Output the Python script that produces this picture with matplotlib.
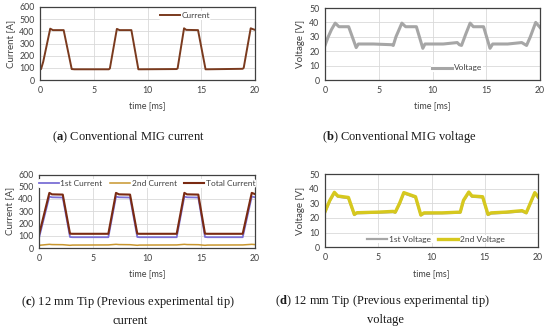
"""
Welding current / voltage waveforms, 4 panels
Output: out.png
"""

import matplotlib.pyplot as plt

# (a) conventional MIG current, breakpoints
t_a = [0, 0.1, 0.3, 0.95, 1.2, 2.2, 2.95, 3.2, 6.4, 6.5, 7.15, 7.4, 8.5, 9.15, 9.4,
       12.7, 12.8, 13.4, 13.6, 14.7, 15.4, 15.6, 18.85, 18.95, 19.6, 19.8, 20]
cur_a = [85, 90, 150, 422, 410, 410, 90, 88, 88, 95, 420, 410, 410, 88, 88,
         90, 95, 425, 412, 410, 88, 88, 92, 100, 425, 418, 412]

# (b) conventional MIG voltage
t_b = [0, 0.3, 0.6, 0.95, 1.3, 2.2, 2.9, 3.1, 4.5, 6.2, 6.35, 6.6, 7.15, 7.5, 8.5,
       9.1, 9.3, 11.0, 12.3, 12.5, 12.7, 13.1, 13.5, 13.8, 14.75, 15.35, 15.6,
       17.0, 18.3, 18.75, 19.1, 19.6, 20]
volt_b = [24, 30, 35, 39.5, 37, 37, 22.5, 25, 25, 24.5, 24, 30, 39.5, 37, 37,
          22, 25, 25, 26, 24.5, 24, 32, 39.5, 37, 37, 22, 25,
          25, 26, 24, 30, 40, 36.5]

# (c) 12 mm tip currents
t_c = [0, 0.96, 1.2, 2.2, 2.87, 3.1, 6.42, 7.13, 7.4, 8.43, 9.1, 9.3, 12.75,
       13.46, 13.7, 14.75, 15.37, 15.6, 18.86, 19.7, 20]
total_c = [108, 450, 438, 436, 117, 116, 116, 450, 438, 436, 117, 116, 116,
           450, 438, 436, 117, 116, 116, 450, 440]
first_c = [82, 420, 414, 412, 90, 88, 88, 420, 414, 412, 90, 88, 88,
           420, 414, 412, 90, 88, 88, 420, 414]
second_c = [22, 30, 28, 27, 22, 24, 25, 30, 28, 27, 22, 24, 25,
            30, 28, 27, 22, 24, 25, 30, 28]

# (d) 12 mm tip voltages
t_d = [0, 0.45, 0.88, 1.2, 2.2, 2.75, 3.0, 5.0, 6.4, 6.6, 7.0, 7.4, 8.5, 9.0,
       9.3, 11.0, 12.7, 13.0, 13.5, 13.8, 14.8, 15.3, 15.6, 17.0, 18.5, 18.9,
       19.7, 20]
volt2_d = [24.3, 32, 37.5, 35, 34, 22.5, 23.6, 24, 24.5, 24, 30, 37.3, 34.5, 22,
           23.5, 23.5, 24, 32, 37.7, 35, 34.5, 22.5, 23.5, 24, 25, 23.6,
           37.3, 34.5]
volt1_d = [23.8, 31.5, 37, 34.5, 33.5, 22, 23.2, 23.6, 24, 23.6, 29.5, 36.8, 34, 21.8,
           23, 23.2, 23.6, 31.5, 37.2, 34.5, 34, 22, 23, 23.6, 24.5, 23.2,
           36.8, 34]

xticks = [0, 5, 10, 15, 20]
sans = "Lato"
serif = "Liberation Serif"
tick_fs = 6.3

# bold caption letters in the serif face
plt.rcParams["mathtext.fontset"] = "custom"
plt.rcParams["mathtext.rm"] = serif
plt.rcParams["mathtext.bf"] = serif + ":bold"

fig = plt.figure(figsize=(5.5, 3.34), dpi=100)


def style(ax, ymax, ystep, ylabel):
    ax.set_xlim(0, 20)
    ax.set_ylim(0, ymax)
    ax.set_xticks(xticks)
    ax.set_yticks(range(0, ymax + 1, ystep))
    ax.grid(True, color="#d9d9d9", linewidth=0.6)
    ax.set_axisbelow(True)
    for s in ax.spines.values():
        s.set_color("#404040")
        s.set_linewidth(0.9)
    ax.tick_params(length=0, pad=4, labelsize=tick_fs, colors="#404040")
    for lab in ax.get_xticklabels() + ax.get_yticklabels():
        lab.set_fontfamily(sans)
    ax.set_xlabel("time [ms]", fontsize=6.5, family=sans, color="#404040", labelpad=5)
    ax.set_ylabel(ylabel, fontsize=7, family=sans, color="#404040", labelpad=3)


def legend(ax, loc, anchor, ncol=1):
    leg = ax.legend(loc=loc, bbox_to_anchor=anchor, ncol=ncol,
                    frameon=True, framealpha=1, facecolor="white", edgecolor="none",
                    handlelength=2.4, handletextpad=0.2, columnspacing=0.9,
                    borderpad=0.1, prop={"family": sans, "size": 6})
    for txt in leg.get_texts():
        txt.set_color("#404040")


# (a)
ax_a = fig.add_axes([40 / 550, 1 - 80 / 334, 215 / 550, 73 / 334])
ax_a.plot(t_a, cur_a, color="#7a3a1e", linewidth=1.4, label="Current")
style(ax_a, 600, 100, "Current [A]")
legend(ax_a, "center", (0.674, 0.887))

# (b)
ax_b = fig.add_axes([325 / 550, 1 - 80 / 334, 215 / 550, 72 / 334])
ax_b.plot(t_b, volt_b, color="#a6a6a6", linewidth=2.2, label="Voltage")
style(ax_b, 50, 10, "Voltage [V]")
legend(ax_b, "center", (0.614, 0.167))

# (c)
ax_c = fig.add_axes([39 / 550, 1 - 248 / 334, 216 / 550, 73.5 / 334])
ax_c.plot(t_c, first_c, color="#7b6fd6", linewidth=1.3, label="1st Current")
ax_c.plot(t_c, second_c, color="#c8962e", linewidth=1.1, label="2nd Current")
ax_c.plot(t_c, total_c, color="#7a2a12", linewidth=1.5, label="Total Current")
style(ax_c, 600, 100, "Current [A]")
legend(ax_c, "center", (0.50, 0.874), ncol=3)

# (d)
ax_d = fig.add_axes([325 / 550, 1 - 247.3 / 334, 213 / 550, 73.3 / 334])
ax_d.plot(t_d, volt1_d, color="#a6a6a6", linewidth=1.6, label="1st Voltage")
ax_d.plot(t_d, volt2_d, color="#d6c81e", linewidth=2.4, label="2nd Voltage")
style(ax_d, 50, 10, "Voltage [V]")
legend(ax_d, "center", (0.52, 0.113), ncol=2)

# captions
cap = dict(fontsize=9, family=serif, color="#1a1a1a", ha="center", va="center")
fig.text(128 / 550, 1 - 137 / 334, r"($\mathbf{a}$) Conventional MIG current", **cap)
fig.text(399 / 550, 1 - 137 / 334, r"($\mathbf{b}$) Conventional MIG voltage", **cap)
fig.text(128 / 550, 1 - 302 / 334, r"($\mathbf{c}$) 12 mm Tip (Previous experimental tip)", **cap)
fig.text(130 / 550, 1 - 321 / 334, "current", **cap)
fig.text(383 / 550, 1 - 301 / 334, r"($\mathbf{d}$) 12 mm Tip (Previous experimental tip)", **cap)
fig.text(385 / 550, 1 - 320 / 334, "voltage", **cap)

plt.savefig("out.png", dpi=100)
